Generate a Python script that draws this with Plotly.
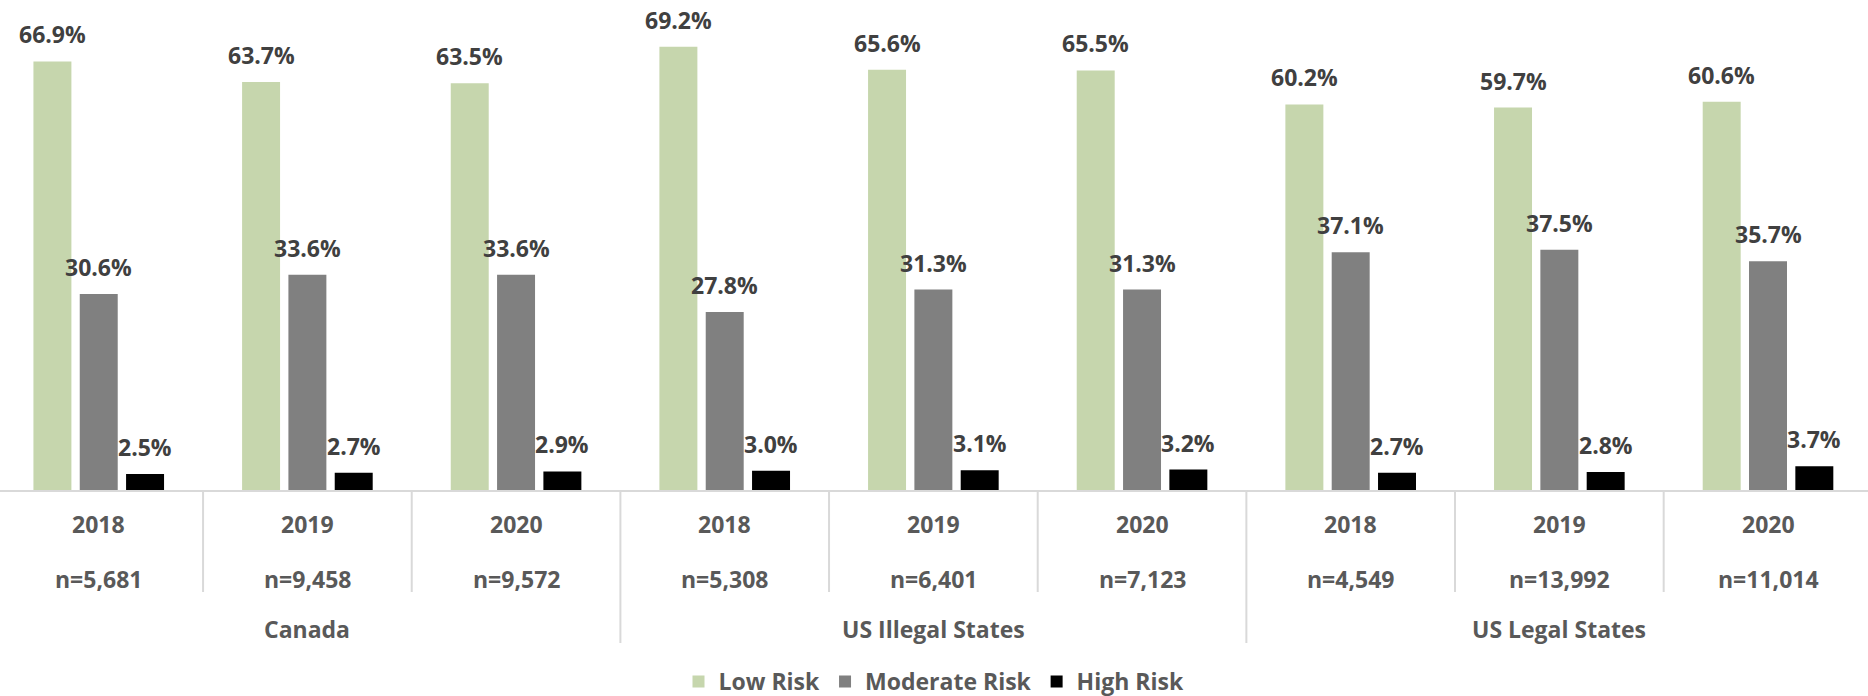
import plotly.graph_objects as go

groups = ["Canada", "US Illegal States", "US Legal States"]
years = ["2018", "2019", "2020"] * 3
sample_sizes = ["n=5,681", "n=9,458", "n=9,572", "n=5,308", "n=6,401", "n=7,123",
                "n=4,549", "n=13,992", "n=11,014"]
low_risk = [66.9, 63.7, 63.5, 69.2, 65.6, 65.5, 60.2, 59.7, 60.6]
moderate_risk = [30.6, 33.6, 33.6, 27.8, 31.3, 31.3, 37.1, 37.5, 35.7]
high_risk = [2.5, 2.7, 2.9, 3.0, 3.1, 3.2, 2.7, 2.8, 3.7]

series = [
    ("Low Risk", low_risk, "#C6D6AD", -0.222),
    ("Moderate Risk", moderate_risk, "#808080", 0.0),
    ("High Risk", high_risk, "#000000", 0.222),
]

FONT = "Open Sans"
LABEL_COLOR = "#404040"
AXIS_COLOR = "#595959"
LINE_COLOR = "#D9D9D9"
FIG_W, FIG_H = 1868, 696
BOTTOM = 206
plot_h = FIG_H - BOTTOM

idx = list(range(len(years)))
fig = go.Figure()
annotations = []
for name, vals, color, off in series:
    xs = [i + off for i in idx]
    fig.add_trace(go.Bar(
        x=xs, y=vals, name=name, width=0.182,
        marker=dict(color=color, line=dict(width=0)),
        hoverinfo="skip",
    ))
    for x, v in zip(xs, vals):
        annotations.append(dict(
            x=x, y=v, xref="x", yref="y", text=f"{v:.1f}%", showarrow=False,
            yanchor="bottom", xanchor="center", yshift=9,
            font=dict(family=FONT, size=23, color=LABEL_COLOR, weight="bold"),
        ))

for i in idx:
    annotations.append(dict(
        x=i, y=0, xref="x", yref="paper", text=years[i], showarrow=False,
        yanchor="middle", xanchor="center", yshift=-34,
        font=dict(family=FONT, size=23, color=AXIS_COLOR, weight="bold"),
    ))
    annotations.append(dict(
        x=i, y=0, xref="x", yref="paper", text=sample_sizes[i], showarrow=False,
        yanchor="middle", xanchor="center", yshift=-89,
        font=dict(family=FONT, size=23, color=AXIS_COLOR, weight="bold"),
    ))

n_per_group = 3
for g, gname in enumerate(groups):
    center = g * n_per_group + (n_per_group - 1) / 2
    annotations.append(dict(
        x=center, y=0, xref="x", yref="paper", text=gname, showarrow=False,
        yanchor="middle", xanchor="center", yshift=-139,
        font=dict(family=FONT, size=23, color=AXIS_COLOR, weight="bold"),
    ))

shapes = []
for k in range(len(years) + 1):
    xpos = k - 0.5
    if k % n_per_group == 0:
        y1 = -153 / plot_h
    else:
        y1 = -102 / plot_h
    shapes.append(dict(type="line", xref="x", yref="paper", x0=xpos, x1=xpos,
                       y0=0, y1=y1, line=dict(color=LINE_COLOR, width=2)))

fig.update_layout(
    width=FIG_W, height=FIG_H,
    margin=dict(l=0, r=0, t=0, b=BOTTOM, pad=0, autoexpand=False),
    paper_bgcolor="white", plot_bgcolor="white",
    barmode="overlay",
    showlegend=True,
    legend=dict(orientation="h", x=0.5, xanchor="center",
                yref="container", y=(FIG_H - 681.5) / FIG_H, yanchor="middle",
                font=dict(family=FONT, size=23, color=AXIS_COLOR, weight="bold"),
                itemwidth=30, traceorder="normal"),
    xaxis=dict(range=[-0.4732, 8.4792], showticklabels=False, ticks="", showgrid=False,
               zeroline=False, showline=True, linecolor=LINE_COLOR, linewidth=2,
               fixedrange=True),
    yaxis=dict(range=[0, 76.5], visible=False, showgrid=False, zeroline=False,
               fixedrange=True),
    annotations=annotations,
    shapes=shapes,
    hovermode=False,
)

fig.write_html("out.html", config={"displayModeBar": False})
